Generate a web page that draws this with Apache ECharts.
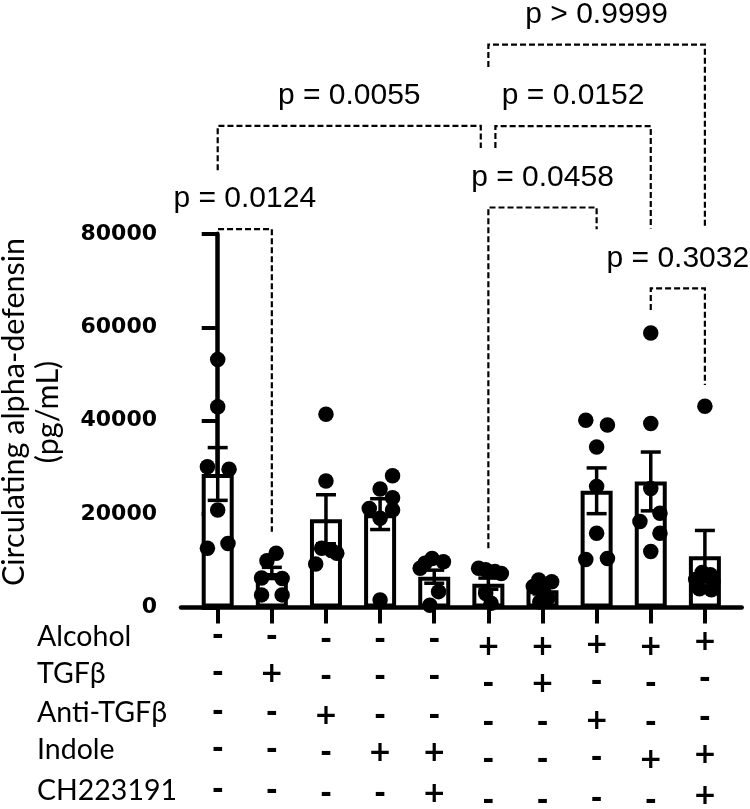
<!DOCTYPE html>
<html><head><meta charset="utf-8">
<script src="https://cdn.jsdelivr.net/npm/echarts@6/dist/echarts.min.js"></script>
<style>html,body{margin:0;padding:0;background:#fff}#c{width:750px;height:809px}</style>
</head><body><div id="c"></div>
<script>
// ---- data ----
const groups = [0, 1, 2, 3, 4, 5, 6, 7, 8, 9];
const factorNames = ['Alcohol', 'TGFβ', 'Anti-TGFβ', 'Indole', 'CH223191'];
const alcohol  = ['-', '-', '-', '-', '-', '+', '+', '+', '+', '+'];
const tgfb     = ['-', '+', '-', '-', '-', '-', '+', '-', '-', '-'];
const antiTgfb = ['-', '-', '+', '-', '-', '-', '-', '+', '-', '-'];
const indole   = ['-', '-', '-', '+', '+', '-', '-', '-', '+', '+'];
const ch223191 = ['-', '-', '-', '-', '+', '-', '-', '-', '-', '+'];
const means = [28600, 7400, 18900, 20000, 6600, 5100, 3700, 25000, 27000, 11000];
const sems  = [5650, 1200, 5250, 3300, 1400, 1200, 800, 4900, 6300, 5500];
const dotValues = [
  [53100, 43000, 30150, 29600, 20900, 12700, 13700],
  [11600, 10000, 6300, 6200, 2700, 2700],
  [41400, 27100, 12700, 12200, 11600, 9300],
  [28200, 25400, 23500, 21200, 20900, 19100, 1600],
  [10500, 9800, 9500, 8400, 3400, 500],
  [8400, 8100, 7700, 7300, 3000, 900],
  [5900, 5500, 4500, 3400, 2000, 1200],
  [40100, 39100, 34400, 25900, 15900, 10300, 10500],
  [58800, 39400, 25500, 20200, 18400, 15900, 12000],
  [43100, 7500, 7000, 6000, 5500, 4000, 3800]
];
const yTicks = [0, 20000, 40000, 60000, 80000];
const cmpFrom  = [0, 0, 5.13, 5, 5, 8];
const cmpTo    = [1, 4.86, 8, 7, 9, 9];
const cmpTop   = [81040, 103150, 103100, 85680, 120580, 68340];
const cmpLeftEnd  = [57980, 93670, 98440, 12670, 115790, 63700];
const cmpRightEnd = [16230, 98440, 81190, 81040, 81190, 47640];
const cmpLabels = ['p = 0.0124', 'p = 0.0055', 'p = 0.0152', 'p = 0.0458', 'p > 0.9999', 'p = 0.3032'];

// ---- layout (not data) ----
const dotJitter = [
  [0, 0, -0.19, 0.21, 0, -0.19, 0.19],
  [0.08, -0.09, -0.19, 0.19, -0.19, 0.19],
  [0, 0, -0.08, 0.1, 0.2, -0.19],
  [0.23, 0, 0.23, -0.2, 0.23, 0, 0],
  [-0.04, 0.17, -0.17, -0.26, 0.08, -0.08],
  [-0.18, -0.05, 0.12, 0.24, -0.05, 0.05],
  [-0.07, 0.17, -0.17, 0.02, 0.1, -0.05],
  [-0.2, 0.2, 0, 0, 0, -0.2, 0.2],
  [0, 0, 0, 0.17, -0.2, 0.17, 0],
  [0, -0.05, 0.1, -0.17, 0.15, -0.1, 0.12]
];
const tableRowsY = [637, 674, 713, 750, 791];
const colShift = [0, 0.5, 3.5, 3.5, 3.5, 10.5, 10.5, 8.5, 10.5, 5.5];
const tableRows = [alcohol, tgfb, antiTgfb, indole, ch223191];

const chart = echarts.init(document.getElementById('c'), null, {renderer: 'canvas'});

const barData = groups.map((g, i) => [g, means[i]]);
const errData = groups.map((g, i) => [g, means[i], sems[i]]);
const dotData = [];
dotValues.forEach((arr, gi) => arr.forEach((v, k) => dotData.push([groups[gi] + dotJitter[gi][k], v])));
const cmpData = cmpFrom.map((f, i) => [f, cmpTo[i], cmpTop[i], cmpLeftEnd[i], cmpRightEnd[i]]);

const labelFont = '30px "Liberation Sans", Arial, sans-serif';

const option = {
  animation: false,
  backgroundColor: '#fff',
  grid: {left: 181, right: 8.3, top: 234, bottom: 201.5, outerBoundsMode: 'none'},
  xAxis: {
    type: 'value', min: -0.678, max: 9.68,
    axisLine: {show: true, lineStyle: {color: '#000', width: 4.5}},
    axisTick: {show: true, customValues: groups, length: 16, lineStyle: {color: '#000', width: 4}},
    axisLabel: {show: false},
    splitLine: {show: false}
  },
  yAxis: {
    type: 'value', min: yTicks[0], max: yTicks[yTicks.length - 1], interval: yTicks[1] - yTicks[0],
    axisLine: {show: true, lineStyle: {color: '#000', width: 4.5}},
    axisTick: {show: true, length: 16, lineStyle: {color: '#000', width: 4}},
    axisLabel: {show: true, margin: 24, color: '#000', fontFamily: '"DejaVu Sans", sans-serif', fontWeight: 'bold', fontSize: 22,
      formatter: v => String(v)},
    splitLine: {show: false}
  },
  graphic: [
    {
      type: 'text', x: 31, y: 412, rotation: Math.PI / 2,
      style: {text: 'Circulating alpha-defensin\n(pg/mL)', font: '30.5px Lato, "Open Sans", sans-serif',
        fill: '#000', align: 'center', verticalAlign: 'middle', lineHeight: 34}
    }
  ].concat(factorNames.map((n, r) => ({
    type: 'text', x: 37, y: tableRowsY[r],
    style: {text: n, font: '28.5px Lato, "Open Sans", sans-serif', fill: '#000', align: 'left', verticalAlign: 'middle'}
  }))),
  series: [
    {
      type: 'bar', data: barData, barWidth: 32, z: 2,
      itemStyle: {color: '#fff', borderColor: '#000', borderWidth: 4}
    },
    {
      type: 'custom', data: errData, z: 3, clip: false,
      encode: {x: 0, y: [1, 2]},
      renderItem: function (params, api) {
        const x = api.value(0), m = api.value(1), s = api.value(2);
        const t = api.coord([x, m + s]), b = api.coord([x, m - s]);
        const hw = 10;
        const st = {stroke: '#000', lineWidth: 3.5};
        return {type: 'group', children: [
          {type: 'line', shape: {x1: t[0], y1: t[1], x2: b[0], y2: b[1]}, style: st},
          {type: 'line', shape: {x1: t[0] - hw, y1: t[1], x2: t[0] + hw, y2: t[1]}, style: st},
          {type: 'line', shape: {x1: b[0] - hw, y1: b[1], x2: b[0] + hw, y2: b[1]}, style: st}
        ]};
      }
    },
    {
      type: 'scatter', data: dotData, symbol: 'circle', symbolSize: 15.5, z: 4,
      itemStyle: {color: '#000', opacity: 1}
    },
    {
      type: 'custom', data: cmpData, z: 5, clip: false, silent: true,
      encode: {x: [0, 1], y: [2, 3, 4]},
      renderItem: function (params, api) {
        const i = params.dataIndex;
        const x1 = api.value(0), x2 = api.value(1), top = api.value(2), l = api.value(3), r = api.value(4);
        const pl = api.coord([x1, l]), ptl = api.coord([x1, top]), ptr = api.coord([x2, top]), pr = api.coord([x2, r]);
        return {type: 'group', children: [
          {type: 'polyline', shape: {points: [pl, ptl, ptr, pr]},
            style: {stroke: '#000', lineWidth: 2.2, lineDash: [6, 3], fill: null}},
          {type: 'text', style: {text: cmpLabels[i], x: (ptl[0] + ptr[0]) / 2, y: ptl[1] - 30,
            font: labelFont, fill: '#000', align: 'center', verticalAlign: 'middle',
            textAlign: 'center', textVerticalAlign: 'middle'}}
        ]};
      }
    },
    {
      type: 'custom', data: groups.map(g => [g, 0]), z: 5, clip: false, silent: true,
      encode: {x: 0, y: 1},
      renderItem: function (params, api) {
        const i = params.dataIndex;
        const px = api.coord([api.value(0), 0])[0];
        return {type: 'group', children: tableRows.map((row, r) => ({
          type: 'text', style: {text: row[i], x: px, y: tableRowsY[r] + colShift[i],
            font: 'bold 28px "DejaVu Sans", sans-serif', fill: '#000',
            align: 'center', verticalAlign: 'middle', textAlign: 'center', textVerticalAlign: 'middle'}
        }))};
      }
    }
  ]
};
chart.setOption(option);
</script>
</body></html>
